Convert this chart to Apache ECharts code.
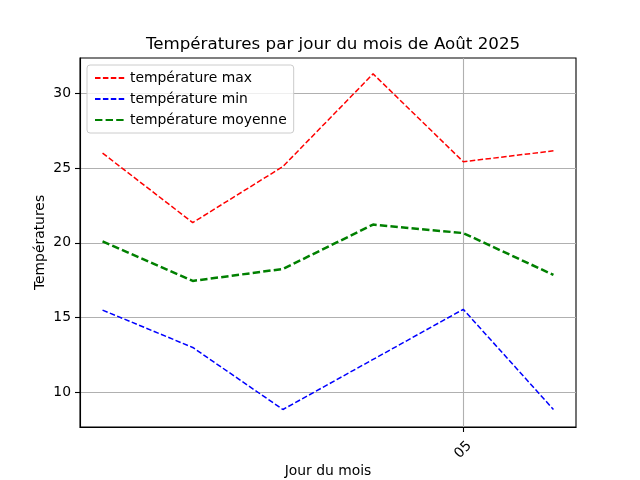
<!DOCTYPE html>
<html><head><meta charset="utf-8">
<script src="https://cdn.jsdelivr.net/npm/echarts@6/dist/echarts.min.js"></script>
<style>html,body{margin:0;padding:0;background:#fff}#c{width:640px;height:480px}</style>
</head><body><div id="c"></div>
<script>
const days = [1, 2, 3, 4, 5, 6];
const tempMax = [26.0, 21.35, 25.1, 31.3, 25.42, 26.15];
const tempMin = [15.5, 13.0, 8.85, 12.2, 15.55, 8.85];
const tempMoy = [20.1, 17.45, 18.25, 21.22, 20.65, 17.85];
const xTickValues = [5];
const xTickLabels = {5: '05'};
const yTickValues = [10, 15, 20, 25, 30];

const F = 'DejaVu Sans';
const pair = (xs, ys) => xs.map((x, i) => [x, ys[i]]);
const chart = echarts.init(document.getElementById('c'), null, {renderer: 'canvas'});
chart.setOption({
  animation: false,
  backgroundColor: '#fff',
  textStyle: {fontFamily: F},
  title: {
    text: 'Températures par jour du mois de Août 2025',
    left: 328, top: 31, textAlign: 'center',
    textStyle: {fontFamily: F, fontSize: 16.7, fontWeight: 'normal', color: '#000'}
  },
  grid: {left: 80, right: 64, top: 58, bottom: 53, show: true, borderColor: '#000', borderWidth: 1.1,
    containLabel: false, outerBoundsMode: 'none'},
  legend: {
    left: 87, top: 65, orient: 'vertical', itemGap: 7, itemWidth: 30, itemHeight: 12,
    backgroundColor: 'rgba(255,255,255,0.8)', borderColor: '#cccccc', borderWidth: 1, borderRadius: 3,
    padding: [6, 7, 6, 7],
    itemStyle: {color: 'rgba(0,0,0,0)', borderWidth: 0, opacity: 0},
    textStyle: {fontFamily: F, fontSize: 13.9, color: '#000'},
    data: ['température max', 'température min', 'température moyenne']
  },
  xAxis: {
    type: 'value', min: 0.75, max: 6.25,
    name: 'Jour du mois', nameLocation: 'middle', nameGap: 37, nameMoveOverlap: false,
    nameTextStyle: {fontFamily: F, fontSize: 13.9, color: '#000'},
    axisLine: {show: true, lineStyle: {color: '#000', width: 1.1}},
    axisTick: {show: true, length: 5, lineStyle: {color: '#000', width: 1.1}, customValues: xTickValues},
    axisLabel: {customValues: xTickValues, rotate: 45, margin: 23, align: 'center', verticalAlign: 'middle',
      fontFamily: F, fontSize: 13.9, color: '#000', formatter: v => xTickLabels[v] || ''},
    splitLine: {show: true, lineStyle: {color: '#b0b0b0', width: 1.1}}
  },
  yAxis: {
    type: 'value', min: 7.68, max: 32.36,
    name: 'Températures', nameLocation: 'middle', nameGap: 33, nameRotate: 90, nameMoveOverlap: false,
    nameTextStyle: {fontFamily: F, fontSize: 13.9, color: '#000'},
    axisLine: {show: true, lineStyle: {color: '#000', width: 1.1}},
    axisTick: {show: true, length: 5, lineStyle: {color: '#000', width: 1.1}, customValues: yTickValues},
    axisLabel: {customValues: yTickValues, margin: 9, fontFamily: F, fontSize: 13.9, color: '#000'},
    splitLine: {show: true, lineStyle: {color: '#b0b0b0', width: 1.1}}
  },
  series: [
    {name: 'température max', type: 'line', data: pair(days, tempMax), symbol: 'none',
      itemStyle: {color: 'red'}, lineStyle: {color: 'red', width: 1.5, type: [5.5, 2.4]}},
    {name: 'température min', type: 'line', data: pair(days, tempMin), symbol: 'none',
      itemStyle: {color: 'blue'}, lineStyle: {color: 'blue', width: 1.5, type: [5.5, 2.4]}},
    {name: 'température moyenne', type: 'line', data: pair(days, tempMoy), symbol: 'none',
      itemStyle: {color: 'green'}, lineStyle: {color: 'green', width: 2.5, type: [7.4, 3.2]}}
  ]
});
</script></body></html>
